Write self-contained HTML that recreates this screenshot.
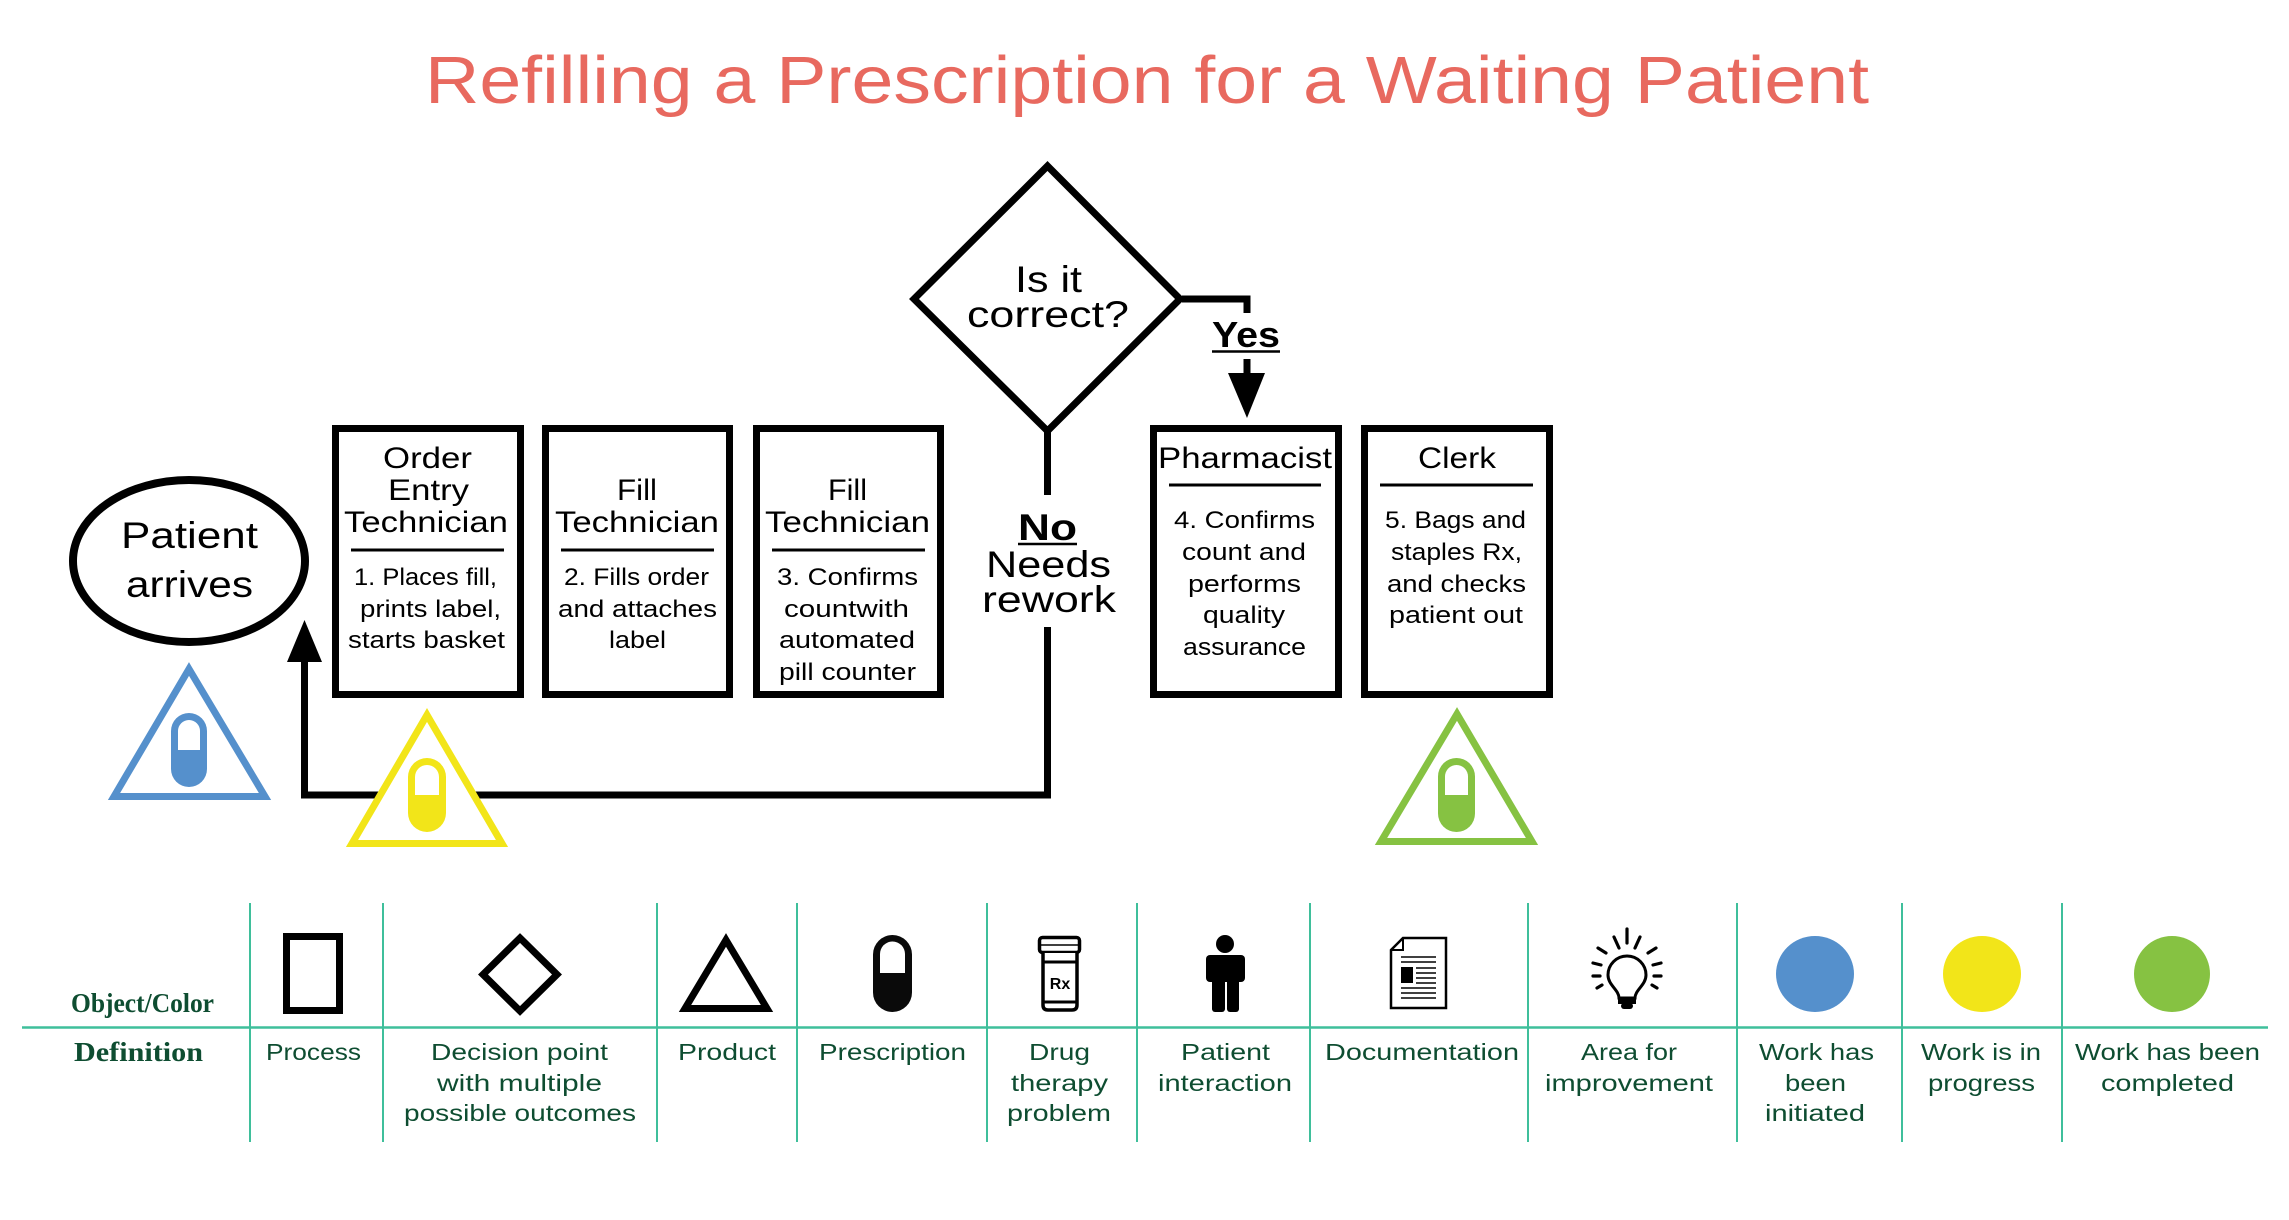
<!DOCTYPE html>
<html>
<head>
<meta charset="utf-8">
<style>
  html, body { margin:0; padding:0; background:#ffffff; }
  svg { display:block; }
  .t { font-family: "Liberation Sans", Arial, sans-serif; fill:#000; }
  .lg { font-family: "Liberation Sans", Arial, sans-serif; fill:#0E4D31; font-size:23px; }
  .sf { font-family: "Liberation Serif", serif; fill:#0E4D31; font-size:27px; font-weight:bold; }
</style>
</head>
<body>
<svg width="2289" height="1220" viewBox="0 0 2289 1220" xmlns="http://www.w3.org/2000/svg">
  <rect x="0" y="0" width="2289" height="1220" fill="#ffffff"/>

  <!-- Title -->
  <text x="425" y="103" font-family="Liberation Sans, Arial, sans-serif" font-size="67" fill="#E8695F" textLength="1444" lengthAdjust="spacingAndGlyphs">Refilling a Prescription for a Waiting Patient</text>

  <!-- Patient arrives ellipse -->
  <ellipse cx="189" cy="561" rx="116" ry="81" fill="#fff" stroke="#000" stroke-width="8"/>
  <text class="t" x="121" y="548" font-size="37" textLength="137" lengthAdjust="spacingAndGlyphs">Patient</text>
  <text class="t" x="126" y="597" font-size="37" textLength="127" lengthAdjust="spacingAndGlyphs">arrives</text>

  <!-- Connectors -->
  <path d="M1047.5,627 V795 H304.5 V652" fill="none" stroke="#000" stroke-width="7" stroke-linejoin="miter"/>
  <polygon points="304.5,620 287,662 322,662" fill="#000"/>
  <line x1="1047.5" y1="428" x2="1047.5" y2="495" stroke="#000" stroke-width="7"/>
  <path d="M1182,299 H1247 V313" fill="none" stroke="#000" stroke-width="7" stroke-linejoin="miter"/>
  <line x1="1247" y1="359" x2="1247" y2="380" stroke="#000" stroke-width="7"/>
  <polygon points="1228,373 1265,373 1247,418" fill="#000"/>

  <!-- Diamond -->
  <polygon points="1047.5,166 1180,299 1047.5,431 914,299" fill="#fff" stroke="#000" stroke-width="7" stroke-linejoin="miter"/>
  <text class="t" x="1015" y="292" font-size="37" textLength="67" lengthAdjust="spacingAndGlyphs">Is it</text>
  <text class="t" x="967" y="327" font-size="37" textLength="162" lengthAdjust="spacingAndGlyphs">correct?</text>

  <!-- Yes -->
  <text class="t" x="1212" y="347" font-size="36" font-weight="bold" textLength="68" lengthAdjust="spacingAndGlyphs">Yes</text>
  <line x1="1212" y1="351.5" x2="1280" y2="351.5" stroke="#000" stroke-width="2.5"/>

  <!-- No / Needs rework -->
  <text class="t" x="1018" y="540" font-size="37" font-weight="bold" textLength="59" lengthAdjust="spacingAndGlyphs">No</text>
  <line x1="1018" y1="544" x2="1077" y2="544" stroke="#000" stroke-width="2.5"/>
  <text class="t" x="986" y="577" font-size="37" textLength="125" lengthAdjust="spacingAndGlyphs">Needs</text>
  <text class="t" x="982" y="612" font-size="37" textLength="134" lengthAdjust="spacingAndGlyphs">rework</text>

  <!-- Box 1 -->
  <rect x="335.5" y="428.5" width="185" height="266" fill="#fff" stroke="#000" stroke-width="7"/>
  <text class="t" x="383" y="468" font-size="30" textLength="89" lengthAdjust="spacingAndGlyphs">Order</text>
  <text class="t" x="388" y="500" font-size="30" textLength="81" lengthAdjust="spacingAndGlyphs">Entry</text>
  <text class="t" x="344" y="532" font-size="30" textLength="164" lengthAdjust="spacingAndGlyphs">Technician</text>
  <line x1="351" y1="550" x2="504" y2="550" stroke="#000" stroke-width="3"/>
  <text class="t" x="354" y="585" font-size="24" textLength="143" lengthAdjust="spacingAndGlyphs">1. Places fill,</text>
  <text class="t" x="360" y="617" font-size="24" textLength="141" lengthAdjust="spacingAndGlyphs">prints label,</text>
  <text class="t" x="348" y="648" font-size="24" textLength="157" lengthAdjust="spacingAndGlyphs">starts basket</text>

  <!-- Box 2 -->
  <rect x="545.5" y="428.5" width="184" height="266" fill="#fff" stroke="#000" stroke-width="7"/>
  <text class="t" x="617" y="500" font-size="30" textLength="40" lengthAdjust="spacingAndGlyphs">Fill</text>
  <text class="t" x="555" y="532" font-size="30" textLength="164" lengthAdjust="spacingAndGlyphs">Technician</text>
  <line x1="561" y1="550" x2="714" y2="550" stroke="#000" stroke-width="3"/>
  <text class="t" x="564" y="585" font-size="24" textLength="145" lengthAdjust="spacingAndGlyphs">2. Fills order</text>
  <text class="t" x="558" y="617" font-size="24" textLength="159" lengthAdjust="spacingAndGlyphs">and attaches</text>
  <text class="t" x="609" y="648" font-size="24" textLength="57" lengthAdjust="spacingAndGlyphs">label</text>

  <!-- Box 3 -->
  <rect x="756.5" y="428.5" width="184" height="266" fill="#fff" stroke="#000" stroke-width="7"/>
  <text class="t" x="828" y="500" font-size="30" textLength="39" lengthAdjust="spacingAndGlyphs">Fill</text>
  <text class="t" x="765" y="532" font-size="30" textLength="165" lengthAdjust="spacingAndGlyphs">Technician</text>
  <line x1="772" y1="550" x2="925" y2="550" stroke="#000" stroke-width="3"/>
  <text class="t" x="777" y="585" font-size="24" textLength="141" lengthAdjust="spacingAndGlyphs">3. Confirms</text>
  <text class="t" x="784" y="617" font-size="24" textLength="125" lengthAdjust="spacingAndGlyphs">countwith</text>
  <text class="t" x="779" y="648" font-size="24" textLength="136" lengthAdjust="spacingAndGlyphs">automated</text>
  <text class="t" x="779" y="680" font-size="24" textLength="137" lengthAdjust="spacingAndGlyphs">pill counter</text>

  <!-- Pharmacist box -->
  <rect x="1153.5" y="428.5" width="185" height="266" fill="#fff" stroke="#000" stroke-width="7"/>
  <text class="t" x="1158" y="468" font-size="30" textLength="174" lengthAdjust="spacingAndGlyphs">Pharmacist</text>
  <line x1="1169" y1="485" x2="1321" y2="485" stroke="#000" stroke-width="3"/>
  <text class="t" x="1174" y="528" font-size="24" textLength="141" lengthAdjust="spacingAndGlyphs">4. Confirms</text>
  <text class="t" x="1182" y="560" font-size="24" textLength="124" lengthAdjust="spacingAndGlyphs">count and</text>
  <text class="t" x="1188" y="592" font-size="24" textLength="113" lengthAdjust="spacingAndGlyphs">performs</text>
  <text class="t" x="1203" y="623" font-size="24" textLength="82" lengthAdjust="spacingAndGlyphs">quality</text>
  <text class="t" x="1183" y="655" font-size="24" textLength="123" lengthAdjust="spacingAndGlyphs">assurance</text>

  <!-- Clerk box -->
  <rect x="1364.5" y="428.5" width="185" height="266" fill="#fff" stroke="#000" stroke-width="7"/>
  <text class="t" x="1418" y="468" font-size="30" textLength="78" lengthAdjust="spacingAndGlyphs">Clerk</text>
  <line x1="1380" y1="485" x2="1533" y2="485" stroke="#000" stroke-width="3"/>
  <text class="t" x="1385" y="528" font-size="24" textLength="141" lengthAdjust="spacingAndGlyphs">5. Bags and</text>
  <text class="t" x="1391" y="560" font-size="24" textLength="131" lengthAdjust="spacingAndGlyphs">staples Rx,</text>
  <text class="t" x="1387" y="592" font-size="24" textLength="139" lengthAdjust="spacingAndGlyphs">and checks</text>
  <text class="t" x="1389" y="623" font-size="24" textLength="134" lengthAdjust="spacingAndGlyphs">patient out</text>

  <!-- Blue triangle + pill -->
  <polygon points="189,669 265,796.5 114,796.5" fill="#fff" stroke="#5590CC" stroke-width="7" stroke-linejoin="miter"/>
  <rect x="171" y="713" width="36" height="74" rx="18" ry="18" fill="#5590CC"/>
  <path d="M178,750 V731 A11,11 0 0 1 200,731 V750 Z" fill="#fff"/>

  <!-- Yellow triangle + pill -->
  <polygon points="427,715 502,843.5 352,843.5" fill="#fff" stroke="#F2E519" stroke-width="7" stroke-linejoin="miter"/>
  <rect x="408" y="758" width="38" height="74" rx="19" ry="19" fill="#F2E519"/>
  <path d="M415,795 V777 A12,12 0 0 1 439,777 V795 Z" fill="#fff"/>

  <!-- Green triangle + pill -->
  <polygon points="1457,714 1532,841.5 1381,841.5" fill="#fff" stroke="#86C242" stroke-width="7" stroke-linejoin="miter"/>
  <rect x="1438" y="758" width="37" height="74" rx="18.5" ry="18.5" fill="#86C242"/>
  <path d="M1445,795 V776.5 A11.5,11.5 0 0 1 1468,776.5 V795 Z" fill="#fff"/>

  <!-- Legend grid -->
  <line x1="22" y1="1027.5" x2="2268" y2="1027.5" stroke="#3FBF9B" stroke-width="2.5"/>
  <g stroke="#3FBF9B" stroke-width="2">
    <line x1="250" y1="903" x2="250" y2="1142"/>
    <line x1="383" y1="903" x2="383" y2="1142"/>
    <line x1="657" y1="903" x2="657" y2="1142"/>
    <line x1="797" y1="903" x2="797" y2="1142"/>
    <line x1="987" y1="903" x2="987" y2="1142"/>
    <line x1="1137" y1="903" x2="1137" y2="1142"/>
    <line x1="1310" y1="903" x2="1310" y2="1142"/>
    <line x1="1528" y1="903" x2="1528" y2="1142"/>
    <line x1="1737" y1="903" x2="1737" y2="1142"/>
    <line x1="1902" y1="903" x2="1902" y2="1142"/>
    <line x1="2062" y1="903" x2="2062" y2="1142"/>
  </g>

  <text class="sf" x="71" y="1012" textLength="143" lengthAdjust="spacingAndGlyphs">Object/Color</text>
  <text class="sf" x="74" y="1061" textLength="129" lengthAdjust="spacingAndGlyphs">Definition</text>

  <!-- Legend icons -->
  <rect x="286.5" y="936.5" width="53" height="74" fill="none" stroke="#000" stroke-width="7"/>
  <polygon points="520,938 557,974.5 520,1011 483,974.5" fill="none" stroke="#000" stroke-width="7" stroke-linejoin="miter"/>
  <polygon points="726,940 767,1008.5 685,1008.5" fill="none" stroke="#000" stroke-width="7" stroke-linejoin="miter"/>
  <rect x="873" y="935" width="39" height="77" rx="19.5" ry="19.5" fill="#0a0a0a"/>
  <path d="M880,973 V954 A12.5,12.5 0 0 1 905,954 V973 Z" fill="#fff"/>

  <!-- Rx bottle -->
  <rect x="1039.5" y="937.5" width="40" height="15" rx="3" fill="#fff" stroke="#000" stroke-width="3.5"/>
  <line x1="1041" y1="945" x2="1078" y2="945" stroke="#000" stroke-width="1.5"/>
  <path d="M1043,953 V1005 Q1043,1010 1048,1010 H1072 Q1077,1010 1077,1005 V953" fill="#fff" stroke="#000" stroke-width="3.5"/>
  <line x1="1043" y1="962" x2="1077" y2="962" stroke="#000" stroke-width="3"/>
  <line x1="1043" y1="1002" x2="1077" y2="1002" stroke="#000" stroke-width="3"/>
  <text x="1060" y="989" text-anchor="middle" font-family="Liberation Sans, Arial, sans-serif" font-weight="bold" font-size="16" fill="#000">Rx</text>

  <!-- Person -->
  <ellipse cx="1225" cy="944" rx="9" ry="9" fill="#000"/>
  <rect x="1206" y="955" width="39" height="27" rx="4" fill="#000"/>
  <rect x="1212" y="975" width="13" height="37" rx="3" fill="#000"/>
  <rect x="1227" y="975" width="12" height="37" rx="3" fill="#000"/>

  <!-- Documentation -->
  <path d="M1403,938 H1446 V1008 H1391 V950 Z" fill="#fff" stroke="#000" stroke-width="2.5"/>
  <path d="M1391,950 H1403 V938" fill="none" stroke="#000" stroke-width="2"/>
  <g stroke="#000" stroke-width="1.6">
    <line x1="1401" y1="957" x2="1436" y2="957"/>
    <line x1="1401" y1="962" x2="1436" y2="962"/>
    <line x1="1416" y1="968" x2="1436" y2="968"/>
    <line x1="1416" y1="973" x2="1436" y2="973"/>
    <line x1="1416" y1="978" x2="1436" y2="978"/>
    <line x1="1416" y1="983" x2="1436" y2="983"/>
    <line x1="1401" y1="988" x2="1436" y2="988"/>
    <line x1="1401" y1="993" x2="1436" y2="993"/>
    <line x1="1401" y1="998" x2="1436" y2="998"/>
  </g>
  <rect x="1401" y="967" width="12" height="16" fill="#000"/>

  <!-- Lightbulb -->
  <path d="M1619,998 C1619,990 1608,985 1608,975 A19,19 0 1 1 1646,975 C1646,985 1635,990 1635,998 Z" fill="#fff" stroke="#000" stroke-width="3"/>
  <rect x="1618" y="998" width="18" height="6" fill="#000"/>
  <rect x="1621" y="1003" width="12" height="6" rx="3" fill="#000"/>
  <g stroke="#000" stroke-width="3.2" stroke-linecap="round">
    <line x1="1627" y1="929" x2="1627" y2="943"/>
    <line x1="1614" y1="937" x2="1619" y2="948"/>
    <line x1="1640" y1="937" x2="1635" y2="948"/>
    <line x1="1598" y1="948" x2="1606" y2="953"/>
    <line x1="1656" y1="948" x2="1648" y2="953"/>
    <line x1="1593" y1="963" x2="1601" y2="965"/>
    <line x1="1661" y1="963" x2="1653" y2="965"/>
    <line x1="1593" y1="976" x2="1600" y2="976"/>
    <line x1="1661" y1="976" x2="1654" y2="976"/>
    <line x1="1597" y1="988" x2="1602" y2="985"/>
    <line x1="1657" y1="988" x2="1652" y2="985"/>
  </g>

  <!-- Color circles -->
  <ellipse cx="1815" cy="974" rx="39" ry="38" fill="#5590CC"/>
  <ellipse cx="1982" cy="974" rx="39" ry="38" fill="#F2E519"/>
  <ellipse cx="2172" cy="974" rx="38" ry="38" fill="#86C242"/>

  <!-- Legend labels -->
  <text class="lg" x="266" y="1060" textLength="95" lengthAdjust="spacingAndGlyphs">Process</text>
  <text class="lg" x="431" y="1060" textLength="177" lengthAdjust="spacingAndGlyphs">Decision point</text>
  <text class="lg" x="437" y="1091" textLength="165" lengthAdjust="spacingAndGlyphs">with multiple</text>
  <text class="lg" x="404" y="1121" textLength="232" lengthAdjust="spacingAndGlyphs">possible outcomes</text>
  <text class="lg" x="678" y="1060" textLength="98" lengthAdjust="spacingAndGlyphs">Product</text>
  <text class="lg" x="819" y="1060" textLength="147" lengthAdjust="spacingAndGlyphs">Prescription</text>
  <text class="lg" x="1029" y="1060" textLength="61" lengthAdjust="spacingAndGlyphs">Drug</text>
  <text class="lg" x="1011" y="1091" textLength="97" lengthAdjust="spacingAndGlyphs">therapy</text>
  <text class="lg" x="1007" y="1121" textLength="104" lengthAdjust="spacingAndGlyphs">problem</text>
  <text class="lg" x="1181" y="1060" textLength="89" lengthAdjust="spacingAndGlyphs">Patient</text>
  <text class="lg" x="1158" y="1091" textLength="134" lengthAdjust="spacingAndGlyphs">interaction</text>
  <text class="lg" x="1325" y="1060" textLength="194" lengthAdjust="spacingAndGlyphs">Documentation</text>
  <text class="lg" x="1581" y="1060" textLength="96" lengthAdjust="spacingAndGlyphs">Area for</text>
  <text class="lg" x="1545" y="1091" textLength="168" lengthAdjust="spacingAndGlyphs">improvement</text>
  <text class="lg" x="1759" y="1060" textLength="115" lengthAdjust="spacingAndGlyphs">Work has</text>
  <text class="lg" x="1785" y="1091" textLength="61" lengthAdjust="spacingAndGlyphs">been</text>
  <text class="lg" x="1765" y="1121" textLength="100" lengthAdjust="spacingAndGlyphs">initiated</text>
  <text class="lg" x="1921" y="1060" textLength="120" lengthAdjust="spacingAndGlyphs">Work is in</text>
  <text class="lg" x="1928" y="1091" textLength="107" lengthAdjust="spacingAndGlyphs">progress</text>
  <text class="lg" x="2075" y="1060" textLength="185" lengthAdjust="spacingAndGlyphs">Work has been</text>
  <text class="lg" x="2101" y="1091" textLength="133" lengthAdjust="spacingAndGlyphs">completed</text>
</svg>
</body>
</html>
